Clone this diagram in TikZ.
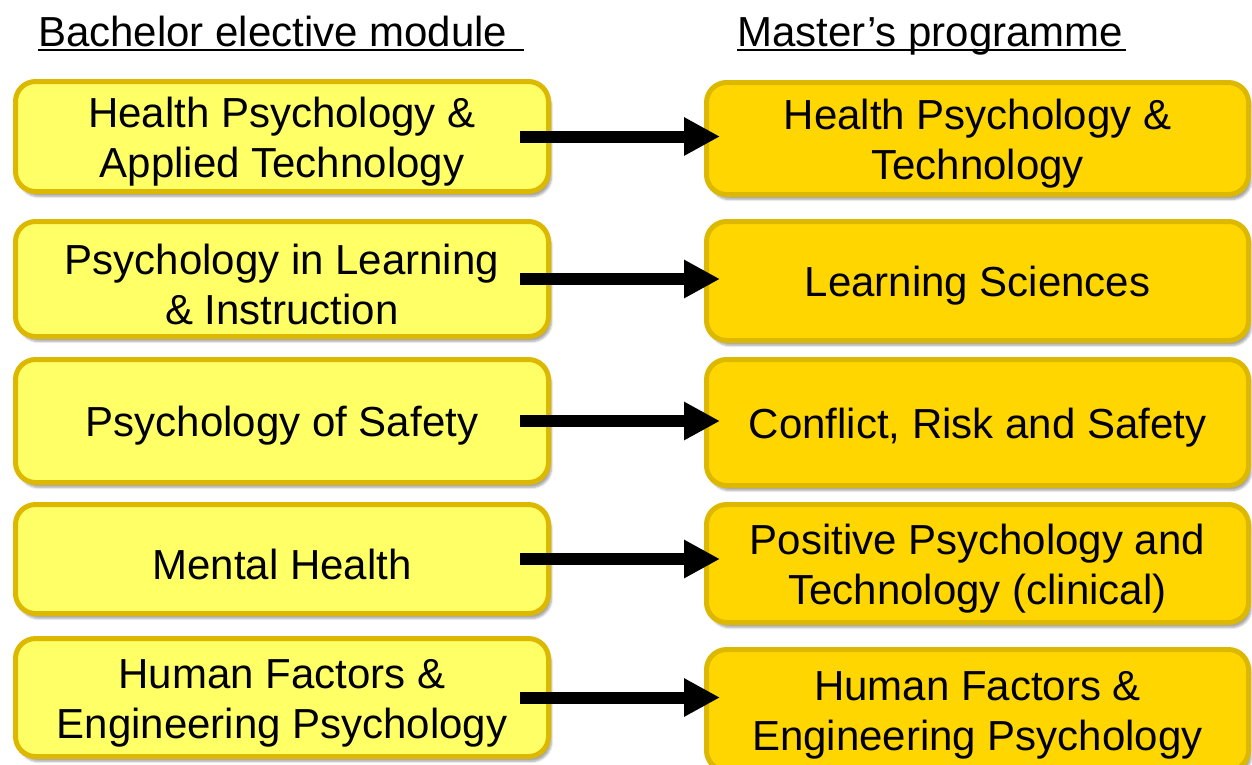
\documentclass[tikz,border=0pt]{standalone}
\usepackage{fontspec}
\setmainfont{Liberation Sans}
\usetikzlibrary{arrows.meta,shadows.blur}

\definecolor{lightyellow}{HTML}{FFFF66}
\definecolor{gold}{HTML}{FFD600}
\definecolor{goldedge}{HTML}{DDB800}

\newcommand{\boxstrut}{\rule{0pt}{40.5pt}}

\begin{document}
\begin{tikzpicture}[x=1pt, y=-1pt, font=\fontsize{42}{50}\selectfont]
    % Define styles
    \tikzstyle{box}=[rectangle, rounded corners=20pt, draw=goldedge, line width=5pt, align=center, inner sep=0pt,
        execute at begin node=\boxstrut,
        blur shadow={shadow xshift=3pt, shadow yshift=-5pt, shadow blur steps=6, shadow opacity=35}]
    \tikzstyle{bachelor}=[box, fill=lightyellow, minimum width=533pt]
    \tikzstyle{master}=[box, fill=gold, minimum width=542pt]
    \tikzstyle{arrow}=[-{Triangle[length=36pt, width=36pt]}, line width=12pt, shorten <=-31pt, shorten >=-16pt]
    \tikzstyle{heading}=[anchor=base west, inner sep=0pt]

    \useasboundingbox (0,0) rectangle (1252,764);

    % Headings
    \node[heading] (hbach) at (38,46) {Bachelor elective module};
    \node[heading] (hmast) at (737,46) {Master’s programme};
    \draw[line width=2.5pt] ([yshift=-4pt]hbach.base west) -- ([xshift=16pt, yshift=-4pt]hbach.base east);
    \draw[line width=2.5pt] ([yshift=-4pt]hmast.base west) -- ([xshift=3pt, yshift=-4pt]hmast.base east);

    % Bachelor modules
    \node[bachelor, minimum height=110pt] (b1) at (282,136.5) {\boxstrut Health Psychology \&\\Applied Technology};
    \node[bachelor, minimum height=115pt] (b2) at (282,279) {\boxstrut Psychology in Learning\\\& Instruction};
    \node[bachelor, minimum height=123pt] (b3) at (282,421) {Psychology of Safety};
    \node[bachelor, minimum height=109pt] (b4) at (282,559) {Mental Health};
    \node[bachelor, minimum height=118pt] (b5) at (282,697.5) {\boxstrut Human Factors \&\\Engineering Psychology};

    % Master programmes
    \node[master, minimum height=112pt] (m1) at (977.5,138.5) {\boxstrut Health Psychology \&\\Technology};
    \node[master, minimum height=119pt] (m2) at (977.5,281) {Learning Sciences};
    \node[master, minimum height=126pt] (m3) at (977.5,422.5) {Conflict, Risk and Safety};
    \node[master, minimum height=118pt] (m4) at (977.5,563.5) {\boxstrut Positive Psychology and\\Technology (clinical)};
    \node[master, minimum height=121pt] (m5) at (977.5,710) {\boxstrut Human Factors \&\\Engineering Psychology};

    % Connections
    \foreach \i in {1,...,5}
        \draw[arrow] (b\i.east) -- (b\i.east -| m\i.west);
\end{tikzpicture}
\end{document}
